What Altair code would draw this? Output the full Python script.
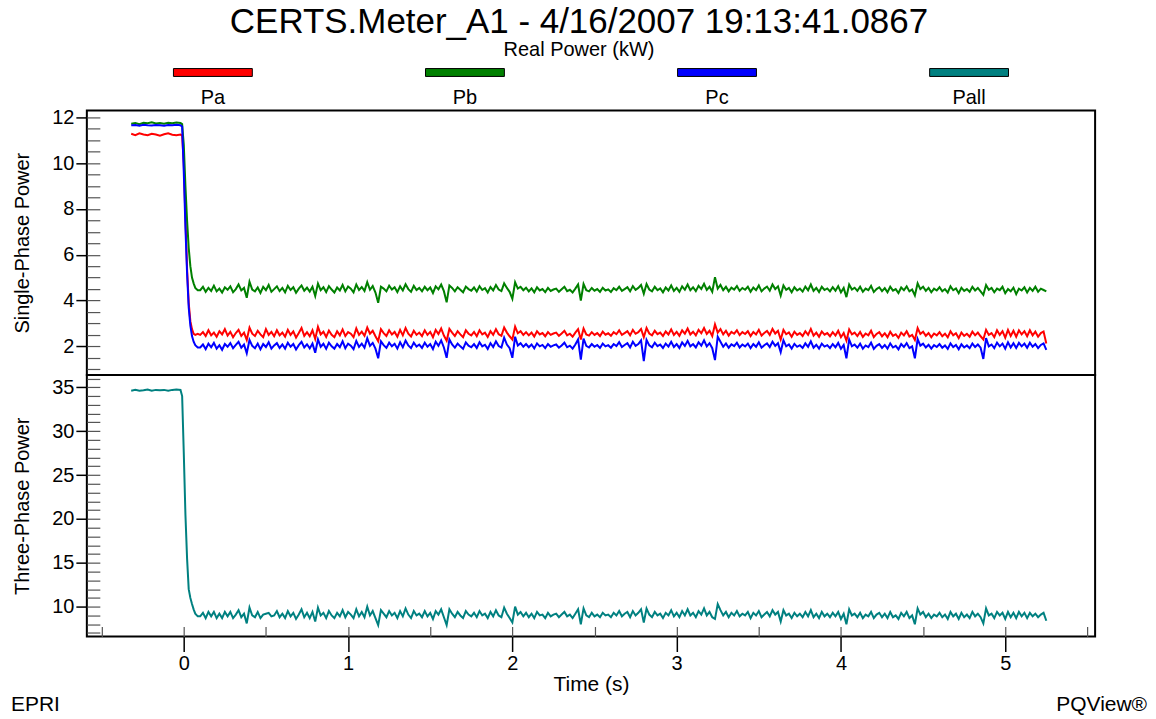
import altair as alt
import pandas as pd

FONT = "Liberation Sans"

names = ["Pa", "Pb", "Pc", "Pall"]
colors = ["#ff0000", "#008000", "#0000ff", "#008080"]

# sample times (s)
pre_t = [-0.32, -0.295, -0.27, -0.245, -0.22, -0.195, -0.17, -0.145, -0.12, -0.095, -0.07, -0.045, -0.02]
trans_t = [-0.01, 0.0, 0.01, 0.02, 0.03, 0.04, 0.05, 0.06, 0.07, 0.085]
steady_t = [round(0.1 + i / 60, 4) for i in range(310)]
times = pre_t + trans_t + steady_t

# Pa (kW)
pa_pre = [11.28, 11.22, 11.30, 11.25, 11.22, 11.28, 11.25, 11.20, 11.26, 11.30, 11.24, 11.22, 11.25]
pa_trans = [11.2, 10.0, 7.6, 5.4, 3.9, 3.1, 2.75, 2.55, 2.5, 2.55]
pa_steady = [
    2.50, 2.62, 2.45, 2.70, 2.48, 2.60, 2.42, 2.66, 2.52, 2.75,
    2.47, 2.63, 2.40, 2.58, 2.72, 2.46, 2.60, 2.28, 2.82, 2.55,
    2.45, 2.68, 2.52, 2.40, 2.75, 2.50, 2.63, 2.44, 2.70, 2.48,
    2.60, 2.42, 2.72, 2.50, 2.65, 2.38, 2.58, 2.80, 2.46, 2.62,
    2.44, 2.70, 2.32, 2.85, 2.52, 2.64, 2.41, 2.69, 2.50, 2.40,
    2.66, 2.48, 2.74, 2.45, 2.62, 2.55, 2.40, 2.78, 2.50, 2.64,
    2.46, 2.82, 2.55, 2.68, 2.44, 2.22, 2.75, 2.58, 2.45, 2.70,
    2.52, 2.63, 2.42, 2.72, 2.48, 2.80, 2.55, 2.43, 2.68, 2.50,
    2.60, 2.45, 2.70, 2.50, 2.63, 2.40, 2.72, 2.54, 2.78, 2.47,
    2.25, 2.76, 2.60, 2.45, 2.66, 2.52, 2.40, 2.70, 2.55, 2.48,
    2.63, 2.44, 2.70, 2.52, 2.60, 2.41, 2.66, 2.50, 2.75, 2.53,
    2.46, 2.82, 2.60, 2.44, 2.30, 2.86, 2.57, 2.66, 2.50, 2.62,
    2.48, 2.60, 2.43, 2.66, 2.52, 2.58, 2.44, 2.62, 2.50, 2.56,
    2.60, 2.46, 2.56, 2.68, 2.48, 2.55, 2.42, 2.60, 2.75, 2.30,
    2.78, 2.52, 2.47, 2.62, 2.50, 2.58, 2.45, 2.64, 2.51, 2.57,
    2.46, 2.62, 2.53, 2.70, 2.50, 2.58, 2.66, 2.48, 2.72, 2.55,
    2.62, 2.76, 2.40, 2.80, 2.56, 2.48, 2.68, 2.53, 2.60, 2.45,
    2.65, 2.52, 2.74, 2.50, 2.63, 2.46, 2.70, 2.55, 2.78, 2.52,
    2.64, 2.48, 2.72, 2.57, 2.80, 2.54, 2.68, 2.45, 2.96, 2.60,
    2.75, 2.52, 2.68, 2.47, 2.63, 2.55, 2.70, 2.49, 2.62, 2.54,
    2.66, 2.45, 2.63, 2.52, 2.72, 2.47, 2.58, 2.67, 2.50, 2.76,
    2.56, 2.68, 2.30, 2.72, 2.53, 2.61, 2.42, 2.64, 2.50, 2.58,
    2.45, 2.66, 2.50, 2.76, 2.47, 2.60, 2.42, 2.65, 2.51, 2.58,
    2.44, 2.62, 2.47, 2.68, 2.40, 2.58, 2.25, 2.74, 2.52, 2.60,
    2.45, 2.63, 2.41, 2.56, 2.48, 2.68, 2.40, 2.54, 2.62, 2.44,
    2.57, 2.40, 2.64, 2.46, 2.53, 2.37, 2.60, 2.48, 2.66, 2.43,
    2.50, 2.28, 2.80, 2.54, 2.64, 2.46, 2.58, 2.40, 2.56, 2.48,
    2.62, 2.44, 2.55, 2.39, 2.66, 2.48, 2.57, 2.36, 2.60, 2.46,
    2.55, 2.42, 2.64, 2.48, 2.60, 2.44, 2.30, 2.72, 2.50, 2.58,
    2.40, 2.70, 2.50, 2.66, 2.38, 2.72, 2.45, 2.68, 2.42, 2.70,
    2.52, 2.66, 2.44, 2.70, 2.48, 2.64, 2.42, 2.58, 2.65, 2.12,
]

# Pb (kW)
pb_pre = [11.72, 11.75, 11.70, 11.76, 11.74, 11.78, 11.73, 11.75, 11.72, 11.76, 11.74, 11.77, 11.75]
pb_trans = [11.7, 10.8, 9.0, 7.5, 6.3, 5.5, 5.0, 4.75, 4.55, 4.45]
pb_steady = [
    4.45, 4.60, 4.38, 4.55, 4.42, 4.65, 4.40, 4.52, 4.35, 4.58,
    4.47, 4.62, 4.36, 4.50, 4.70, 4.44, 4.55, 4.12, 4.82, 4.48,
    4.40, 4.57, 4.33, 4.60, 4.45, 4.68, 4.38, 4.50, 4.62, 4.41,
    4.55, 4.36, 4.64, 4.46, 4.58, 4.34, 4.52, 4.66, 4.43, 4.56,
    4.39, 4.60, 4.20, 4.74, 4.45, 4.58, 4.37, 4.63, 4.48, 4.35,
    4.57, 4.44, 4.68, 4.40, 4.61, 4.52, 4.36, 4.70, 4.46, 4.59,
    4.42, 4.80, 4.47, 4.63, 4.35, 3.90, 4.60, 4.52, 4.40, 4.65,
    4.48, 4.58, 4.37, 4.62, 4.44, 4.71, 4.50, 4.38, 4.64, 4.46,
    4.55, 4.40, 4.60, 4.45, 4.57, 4.33, 4.62, 4.49, 4.70, 4.41,
    3.92, 4.66, 4.55, 4.40, 4.58, 4.47, 4.36, 4.61, 4.50, 4.43,
    4.57, 4.39, 4.63, 4.46, 4.54, 4.35, 4.59, 4.44, 4.68, 4.48,
    4.41, 4.75, 4.55, 4.38, 4.08, 4.80, 4.52, 4.60, 4.45, 4.56,
    4.40, 4.53, 4.36, 4.58, 4.44, 4.50, 4.37, 4.55, 4.42, 4.48,
    4.52, 4.38, 4.49, 4.60, 4.41, 4.47, 4.35, 4.52, 4.70, 4.00,
    4.72, 4.45, 4.40, 4.55, 4.43, 4.50, 4.38, 4.56, 4.44, 4.49,
    4.37, 4.54, 4.45, 4.60, 4.42, 4.50, 4.58, 4.40, 4.63, 4.47,
    4.55, 4.68, 4.30, 4.72, 4.48, 4.40, 4.60, 4.45, 4.53, 4.36,
    4.57, 4.44, 4.66, 4.42, 4.55, 4.38, 4.62, 4.47, 4.70, 4.45,
    4.58, 4.41, 4.64, 4.50, 4.73, 4.46, 4.60, 4.38, 5.02, 4.52,
    4.68, 4.45, 4.60, 4.40, 4.56, 4.48, 4.63, 4.42, 4.55, 4.47,
    4.60, 4.38, 4.57, 4.45, 4.66, 4.40, 4.52, 4.61, 4.43, 4.70,
    4.50, 4.62, 4.22, 4.66, 4.47, 4.55, 4.36, 4.58, 4.44, 4.52,
    4.39, 4.61, 4.45, 4.70, 4.42, 4.55, 4.37, 4.60, 4.46, 4.53,
    4.40, 4.58, 4.43, 4.63, 4.36, 4.55, 4.15, 4.70, 4.48, 4.56,
    4.42, 4.60, 4.38, 4.52, 4.45, 4.64, 4.37, 4.50, 4.58, 4.41,
    4.54, 4.36, 4.60, 4.43, 4.50, 4.33, 4.57, 4.45, 4.62, 4.40,
    4.48, 4.22, 4.75, 4.50, 4.60, 4.42, 4.55, 4.36, 4.52, 4.44,
    4.58, 4.40, 4.50, 4.35, 4.62, 4.45, 4.53, 4.32, 4.56, 4.42,
    4.50, 4.38, 4.60, 4.44, 4.55, 4.40, 4.25, 4.68, 4.47, 4.55,
    4.36, 4.52, 4.45, 4.60, 4.32, 4.50, 4.40, 4.56, 4.28, 4.52,
    4.44, 4.58, 4.35, 4.55, 4.42, 4.60, 4.38, 4.52, 4.46, 4.40,
]

# Pc (kW)
pc_pre = [11.65, 11.66, 11.63, 11.67, 11.65, 11.64, 11.66, 11.65, 11.63, 11.66, 11.65, 11.67, 11.65]
pc_trans = [11.6, 9.6, 7.2, 5.2, 3.7, 2.9, 2.45, 2.2, 2.05, 1.95]
pc_steady = [
    1.95, 2.08, 1.88, 2.12, 1.96, 2.15, 1.90, 2.05, 1.85, 2.10,
    1.98, 2.14, 1.92, 2.06, 2.20, 1.94, 2.08, 1.70, 2.28, 2.02,
    1.92, 2.12, 1.87, 2.10, 1.97, 2.18, 1.90, 2.04, 2.14, 1.93,
    2.08, 1.90, 2.16, 1.98, 2.10, 1.86, 2.05, 2.20, 1.95, 2.09,
    1.91, 2.12, 1.72, 2.30, 1.98, 2.11, 1.89, 2.16, 2.00, 1.90,
    2.10, 1.96, 2.22, 1.92, 2.12, 2.03, 1.88, 2.24, 1.98, 2.12,
    1.94, 2.35, 2.02, 2.15, 1.90, 1.48, 2.22, 2.05, 1.93, 2.16,
    2.00, 2.11, 1.90, 2.18, 1.96, 2.25, 2.04, 1.92, 2.16, 1.99,
    2.08, 1.93, 2.16, 1.98, 2.10, 1.88, 2.20, 2.02, 2.26, 1.95,
    1.50, 2.30, 2.08, 1.94, 2.12, 2.00, 1.89, 2.17, 2.03, 1.96,
    2.10, 1.93, 2.18, 2.00, 2.07, 1.89, 2.14, 1.97, 2.22, 2.01,
    1.95, 2.38, 2.08, 1.92, 1.50, 2.42, 2.04, 2.14, 1.98, 2.10,
    1.96, 2.08, 1.91, 2.13, 2.00, 2.06, 1.92, 2.10, 1.98, 2.04,
    2.08, 1.94, 2.04, 2.16, 1.96, 2.03, 1.90, 2.08, 2.30, 1.42,
    2.34, 2.02, 1.95, 2.10, 1.98, 2.06, 1.93, 2.12, 2.00, 2.05,
    1.94, 2.10, 2.01, 2.18, 1.97, 2.06, 2.14, 1.95, 2.20, 2.02,
    2.10, 2.26, 1.35, 2.28, 2.04, 1.96, 2.16, 2.01, 2.08, 1.93,
    2.12, 1.99, 2.20, 1.97, 2.10, 1.93, 2.17, 2.02, 2.24, 2.00,
    2.10, 1.95, 2.18, 2.03, 2.26, 2.00, 2.14, 1.92, 1.40, 2.42,
    2.20, 1.98, 2.13, 1.94, 2.09, 2.01, 2.16, 1.95, 2.08, 2.00,
    2.12, 1.92, 2.10, 1.98, 2.18, 1.94, 2.05, 2.13, 1.97, 2.20,
    2.02, 2.14, 1.75, 2.26, 2.00, 2.08, 1.90, 2.11, 1.98, 2.05,
    1.93, 2.13, 1.98, 2.22, 1.94, 2.07, 1.90, 2.12, 1.99, 2.05,
    1.92, 2.10, 1.96, 2.15, 1.89, 2.06, 1.48, 2.30, 2.00, 2.08,
    1.94, 2.12, 1.90, 2.04, 1.97, 2.16, 1.89, 2.02, 2.10, 1.93,
    2.06, 1.90, 2.13, 1.95, 2.02, 1.87, 2.10, 1.97, 2.14, 1.92,
    2.00, 1.48, 2.32, 2.03, 2.12, 1.95, 2.07, 1.90, 2.05, 1.97,
    2.10, 1.94, 2.04, 1.89, 2.13, 1.97, 2.06, 1.87, 2.09, 1.95,
    2.04, 1.92, 2.12, 1.97, 2.08, 1.94, 1.45, 2.36, 2.00, 2.08,
    1.92, 2.16, 2.00, 2.12, 1.90, 2.18, 1.95, 2.14, 1.93, 2.15,
    2.00, 2.12, 1.94, 2.16, 1.98, 2.10, 1.92, 2.06, 2.13, 1.85,
]

# Pall (kW)
pall_pre = [34.6, 34.7, 34.6, 34.65, 34.75, 34.6, 34.7, 34.65, 34.7, 34.6, 34.7, 34.75, 34.7]
pall_trans = [34.0, 27.5, 20.5, 15.5, 12.0, 11.0, 10.3, 9.7, 9.2, 8.9]
pall_steady = [
    8.9, 9.3, 8.7, 9.4, 8.9, 9.4, 8.7, 9.2, 8.7, 9.4,
    8.9, 9.4, 8.7, 9.1, 9.6, 8.8, 9.2, 8.1, 9.9, 9.0,
    8.8, 9.4, 8.7, 9.1, 9.2, 9.3, 8.9, 9.0, 9.5, 8.8,
    9.2, 8.7, 9.5, 8.9, 9.3, 8.6, 9.1, 9.7, 8.8, 9.3,
    8.7, 9.4, 8.3, 9.9, 9.0, 9.3, 8.7, 9.5, 9.0, 8.7,
    9.3, 8.9, 9.6, 8.8, 9.4, 9.1, 8.7, 9.7, 8.9, 9.4,
    8.8, 10.0, 9.0, 9.5, 8.7, 7.9, 9.6, 9.2, 8.8, 9.5,
    9.0, 9.3, 8.7, 9.5, 8.9, 9.8, 9.1, 8.7, 9.5, 9.0,
    9.2, 8.8, 9.5, 8.9, 9.3, 8.6, 9.5, 9.1, 9.7, 8.8,
    7.9, 9.7, 9.2, 8.8, 9.4, 9.0, 8.7, 9.5, 9.1, 8.9,
    9.3, 8.8, 9.5, 9.0, 9.2, 8.7, 9.4, 8.9, 9.6, 9.0,
    8.8, 9.9, 9.2, 8.7, 8.2, 10.0, 9.1, 9.4, 8.9, 9.3,
    8.8, 9.2, 8.7, 9.4, 9.0, 9.1, 8.7, 9.3, 8.9, 9.1,
    9.2, 8.8, 9.1, 9.4, 8.9, 9.1, 8.7, 9.2, 9.7, 8.0,
    9.8, 9.0, 8.8, 9.3, 8.9, 9.1, 8.8, 9.3, 9.0, 9.1,
    8.8, 9.3, 9.0, 9.5, 8.9, 9.2, 9.4, 8.8, 9.5, 9.0,
    9.3, 9.7, 8.2, 9.8, 9.1, 8.8, 9.4, 9.0, 9.2, 8.7,
    9.3, 9.0, 9.6, 8.9, 9.3, 8.8, 9.5, 9.0, 9.7, 9.0,
    9.3, 8.8, 9.5, 9.1, 9.8, 9.0, 9.4, 8.8, 8.6, 10.3,
    9.6, 9.0, 9.4, 8.8, 9.3, 9.0, 9.5, 8.9, 9.2, 9.0,
    9.4, 8.7, 9.3, 9.0, 9.5, 8.8, 9.1, 9.4, 8.9, 9.6,
    9.1, 9.4, 8.3, 9.6, 9.0, 9.2, 8.7, 9.3, 8.9, 9.2,
    8.8, 9.4, 8.9, 9.6, 8.8, 9.2, 8.7, 9.4, 8.9, 9.2,
    8.8, 9.3, 8.9, 9.4, 8.6, 9.2, 8.0, 9.7, 9.0, 9.2,
    8.8, 9.3, 8.7, 9.1, 8.9, 9.4, 8.7, 9.1, 9.3, 8.8,
    9.2, 8.7, 9.4, 8.8, 9.0, 8.6, 9.3, 8.9, 9.4, 8.7,
    9.0, 8.0, 9.8, 9.1, 9.4, 8.8, 9.2, 8.7, 9.1, 8.9,
    9.3, 8.8, 9.1, 8.6, 9.4, 8.9, 9.2, 8.6, 9.3, 8.8,
    9.1, 8.7, 9.4, 8.9, 9.2, 8.8, 8.1, 9.8, 9.0, 9.2,
    8.7, 9.4, 9.0, 9.3, 8.6, 9.4, 8.8, 9.3, 8.7, 9.4,
    8.9, 9.3, 8.7, 9.3, 8.9, 9.2, 8.8, 9.1, 9.3, 8.4,
]

# axis tick values
x_major = [0, 1, 2, 3, 4, 5]
x_minor = [-0.5, 0, 0.5, 1, 1.5, 2, 2.5, 3, 3.5, 4, 4.5, 5, 5.5]
top_major = [2, 4, 6, 8, 10, 12]
top_minor = [1 + 0.5 * i for i in range(23)]
bot_major = [10, 15, 20, 25, 30, 35]
bot_minor = list(range(7, 37))

series = {
    "Pa": pa_pre + pa_trans + pa_steady,
    "Pb": pb_pre + pb_trans + pb_steady,
    "Pc": pc_pre + pc_trans + pc_steady,
    "Pall": pall_pre + pall_trans + pall_steady,
}
rows = []
for s, vals in series.items():
    for t, v in zip(times, vals):
        rows.append({"t": t, "s": s, "v": v})
df = pd.DataFrame(rows)
df_top = df[df.s.isin(["Pa", "Pb", "Pc"])]
df_bot = df[df.s == "Pall"]

W = 1010
H_TOP = 265
H_BOT = 262

x_scale = alt.Scale(domain=[-0.59, 5.547], nice=False, zero=False)
color_scale = alt.Scale(domain=names, range=colors)


def major_y(values, title):
    return alt.Axis(orient="left", values=values, tickSize=11, tickWidth=1.5, tickColor="black",
                    labelFontSize=20, labelColor="black", labelPadding=2, domain=False, grid=False,
                    title=title, titleFontSize=20, titleFontWeight="normal", titleColor="black",
                    titlePadding=19)


def minor_y(values):
    return alt.Axis(orient="left", values=values, tickSize=13, offset=-13, tickWidth=1.2,
                    tickColor="#555555", labels=False, domain=False, grid=False, title=None)


def panel(data, ydom, ymaj, ymin, ytitle, height, bottom):
    yscale = alt.Scale(domain=ydom, nice=False, zero=False)
    if bottom:
        xa = alt.Axis(orient="bottom", values=x_major, tickSize=15, tickWidth=1.5, tickColor="black",
                      labelFontSize=20, labelColor="black", labelPadding=2, domain=False, grid=False,
                      title="Time (s)", titleFontSize=21, titleFontWeight="normal",
                      titleColor="black", titlePadding=0)
        xb = alt.Axis(orient="bottom", values=x_minor, tickSize=10, offset=-10, tickWidth=1.2,
                      tickColor="#555555", labels=False, domain=False, grid=False, title=None)
    else:
        xa = None
        xb = None
    base = alt.Chart(data)
    lines = base.mark_line(strokeWidth=2).encode(
        x=alt.X("t:Q", scale=x_scale, axis=xa),
        y=alt.Y("v:Q", scale=yscale, axis=major_y(ymaj, ytitle)),
        color=alt.Color("s:N", scale=color_scale, legend=None),
    )
    ghost = base.mark_line(strokeOpacity=0).encode(
        x=alt.X("t:Q", scale=x_scale, axis=xb),
        y=alt.Y("v:Q", scale=yscale, axis=minor_y(ymin)),
        color=alt.Color("s:N", scale=color_scale, legend=None),
    )
    layers = [lines, ghost]
    if bottom:
        epri = alt.Chart(pd.DataFrame({"txt": ["EPRI"]})).mark_text(
            align="left", baseline="middle", fontSize=21, color="black"
        ).encode(text="txt:N", x=alt.value(-76), y=alt.value(height + 69))
        pqv = alt.Chart(pd.DataFrame({"txt": ["PQView®"]})).mark_text(
            align="right", baseline="middle", fontSize=21, color="black"
        ).encode(text="txt:N", x=alt.value(W + 52), y=alt.value(height + 69))
        layers += [epri, pqv]
    return alt.layer(*layers).resolve_axis(x="independent", y="independent").properties(
        width=W, height=height)


top = panel(df_top, [0.75, 12.3], top_major, top_minor, "Single-Phase Power", H_TOP, False)
bot = panel(df_bot, [6.6, 36.4], bot_major, bot_minor, "Three-Phase Power", H_BOT, True)

leg_df = pd.DataFrame({"s": names})
leg_x = alt.X("s:N", sort=names, scale=alt.Scale(type="point", domain=names, padding=0.5), axis=None)
leg_bars = alt.Chart(leg_df).mark_point(
    shape="M-1,-0.1L1,-0.1L1,0.1L-1,0.1Z", filled=True, size=6241, stroke="black",
    strokeWidth=1, opacity=1
).encode(x=leg_x, y=alt.value(13), color=alt.Color("s:N", scale=color_scale, legend=None))
leg_txt = alt.Chart(leg_df).mark_text(fontSize=20, baseline="middle", color="black").encode(
    x=leg_x, y=alt.value(39), text="s:N")
legend = alt.layer(leg_bars, leg_txt).properties(
    width=W, height=51, view=alt.ViewBackground(strokeOpacity=0))

chart = alt.vconcat(legend, top, bot, spacing=0, bounds="flush").properties(
    title=alt.TitleParams(
        text="CERTS.Meter_A1 - 4/16/2007 19:13:41.0867",
        subtitle="Real Power (kW)",
        fontSize=35, fontWeight="normal", color="black",
        subtitleFontSize=20, subtitleColor="black", subtitlePadding=0,
        anchor="middle", frame="bounds", offset=0,
    ),
    padding={"left": 10, "right": 8, "top": 4, "bottom": 2},
).configure(font=FONT).configure_view(stroke="black", strokeWidth=2).configure_title(
    font=FONT, subtitleFont=FONT)

chart.save("out.html", embed_options={"renderer": "svg", "actions": False})
